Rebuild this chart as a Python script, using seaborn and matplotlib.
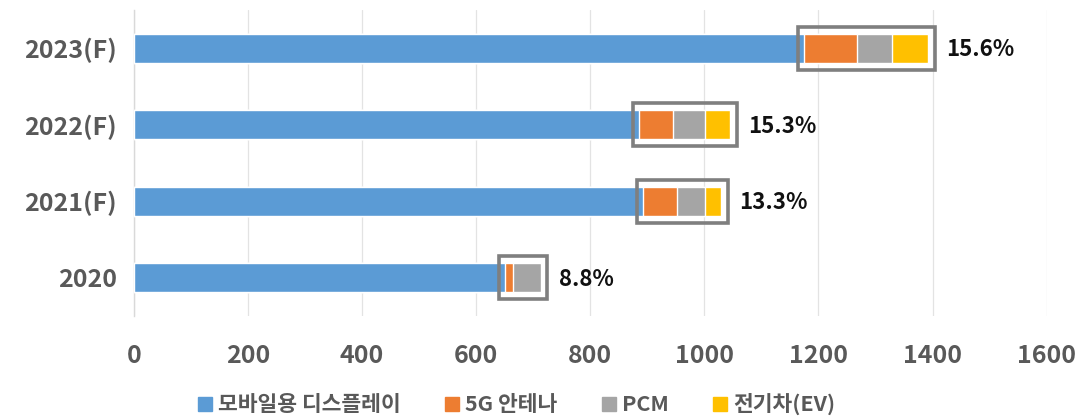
import matplotlib
matplotlib.use("Agg")
import matplotlib.pyplot as plt
from matplotlib.patches import Rectangle
from matplotlib.lines import Line2D
import pandas as pd
import seaborn as sns

sns.set_theme(style="white")
plt.rcParams["font.family"] = ["Noto Sans CJK KR", "DejaVu Sans"]

# Market size by application (stacked segments)
years = ["2023(F)", "2022(F)", "2021(F)", "2020"]
mobile_display = [1175, 885, 892, 650]
antenna_5g = [92, 60, 60, 14]
pcm = [62, 57, 50, 49]
ev = [63, 43, 27, 0]
share_labels = ["15.6%", "15.3%", "13.3%", "8.8%"]

series_names = ["모바일용 디스플레이", "5G 안테나", "PCM", "전기차(EV)"]
colors = ["#5B9BD5", "#ED7D31", "#A5A5A5", "#FFC000"]

df = pd.DataFrame({
    "year": years,
    "mobile": mobile_display,
    "antenna": antenna_5g,
    "pcm": pcm,
    "ev": ev,
})
df["c1"] = df["mobile"]
df["c2"] = df["c1"] + df["antenna"]
df["c3"] = df["c2"] + df["pcm"]
df["c4"] = df["c3"] + df["ev"]

fig = plt.figure(figsize=(10.88, 4.19), dpi=100)
ax = fig.add_axes([0.123, 0.246, 0.839, 0.73])

bar_h = 0.38
# cumulative totals drawn from widest to narrowest so each layer stays visible
for col, color in zip(["c4", "c3", "c2", "c1"], colors[::-1]):
    sns.barplot(data=df, x=col, y="year", order=years, color=color,
                width=bar_h, orient="h", ax=ax, saturation=1, zorder=3)

# outline around the non-display segments plus share labels
for i in range(len(years)):
    start = df["c1"][i]
    end = df["c4"][i]
    ax.add_patch(Rectangle((start - 10, i - bar_h / 2 - 0.09), end - start + 22,
                           bar_h + 0.18, fill=False, edgecolor="#7F7F7F",
                           linewidth=2.6, zorder=5))
    ax.text(end + 32, i + 0.02, share_labels[i], va="center", ha="left",
            fontsize=16, fontweight="bold", color="#111111")

ax.set_xlim(0, 1600)
ax.set_ylim(3.5, -0.5)
ax.set_xticks(range(0, 1601, 200))
ax.xaxis.grid(True, color="#E3E3E3", linewidth=0.9)
ax.set_axisbelow(True)
for s in ["top", "right", "bottom"]:
    ax.spines[s].set_visible(False)
ax.spines["left"].set_color("#D9D9D9")
ax.spines["left"].set_linewidth(1)
ax.set_xlabel("")
ax.set_ylabel("")
ax.tick_params(axis="x", length=0, pad=20, labelsize=18, labelcolor="#595959")
ax.tick_params(axis="y", length=0, pad=12, labelsize=18, labelcolor="#595959")
for lbl in ax.get_xticklabels() + ax.get_yticklabels():
    lbl.set_fontweight("bold")

handles = [Line2D([0], [0], marker="s", linestyle="", markersize=10,
                  markerfacecolor=c, markeredgecolor=c) for c in colors]
leg = fig.legend(handles, series_names, loc="center", bbox_to_anchor=(0.473, 0.035),
                 ncol=4, frameon=False, fontsize=15.5, handletextpad=0.1,
                 columnspacing=1.9, handlelength=1.0)
for t in leg.get_texts():
    t.set_color("#595959")
    t.set_fontweight("bold")

fig.savefig("out.png", dpi=100)
